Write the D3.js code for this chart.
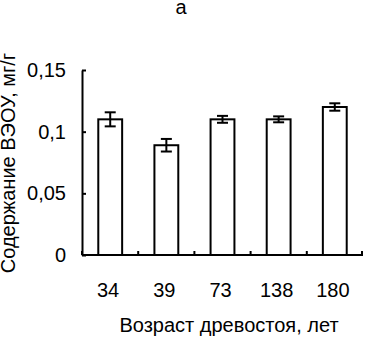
<!DOCTYPE html>
<html>
<head>
<meta charset="utf-8">
<script src="https://cdn.jsdelivr.net/npm/d3@7"></script>
<style>
  body { margin: 0; background: #fff; }
  text { font-family: "Liberation Sans", Arial, sans-serif; font-size: 20px; fill: #000; }
</style>
</head>
<body>
<svg id="chart"></svg>
<script>
// data
const ages = ["34", "39", "73", "138", "180"];
const values = [0.110, 0.089, 0.110, 0.110, 0.120];
const errors = [0.0057, 0.0051, 0.0028, 0.0024, 0.0030];
const yTicks = [0, 0.05, 0.1, 0.15];

const width = 365, height = 339;
const margin = {top: 70, right: 2, bottom: 84, left: 82};

const svg = d3.select("#chart")
	.attr("width", width)
	.attr("height", height);

const x = d3.scaleBand()
	.domain(ages)
	.range([margin.left, width - margin.right])
	.paddingInner(0.575)
	.paddingOuter(0.29);

const y = d3.scaleLinear()
	.domain([0, 0.15])
	.range([height - margin.bottom, margin.top]);

const band = d3.scaleBand().domain(ages).range([margin.left, width - margin.right]);

// bars
svg.append("g")
	.selectAll("rect")
	.data(values)
	.join("rect")
	.attr("x", (d, i) => x(ages[i]))
	.attr("y", d => y(d))
	.attr("width", x.bandwidth())
	.attr("height", d => y(0) - y(d))
	.attr("fill", "#fff")
	.attr("stroke", "#000")
	.attr("stroke-width", 2);

// error bars
const capW = 11;
const eb = svg.append("g").attr("stroke", "#000").attr("stroke-width", 2);
values.forEach((v, i) => {
	const cx = x(ages[i]) + x.bandwidth() / 2;
	eb.append("line").attr("x1", cx).attr("x2", cx).attr("y1", y(v - errors[i])).attr("y2", y(v + errors[i]));
	eb.append("line").attr("x1", cx - capW / 2).attr("x2", cx + capW / 2).attr("y1", y(v + errors[i])).attr("y2", y(v + errors[i]));
	eb.append("line").attr("x1", cx - capW / 2).attr("x2", cx + capW / 2).attr("y1", y(v - errors[i])).attr("y2", y(v - errors[i]));
});

// y axis, ticks pointing inward
const fmt = d => d3.format(",")(d).replace(".", ",");
const yAxis = svg.append("g")
	.attr("transform", `translate(${margin.left},0)`)
	.call(d3.axisLeft(y).tickValues(yTicks).tickSizeInner(-4).tickSizeOuter(0).tickPadding(16).tickFormat(fmt));
yAxis.select(".domain").attr("stroke-width", 2);
yAxis.selectAll(".tick line").attr("stroke-width", 2);
yAxis.selectAll("text").style("font-size", "20px").attr("font-family", null);

// x axis, category separators pointing up
const xAxis = svg.append("g")
	.attr("transform", `translate(0,${y(0)})`);
xAxis.append("line")
	.attr("x1", margin.left).attr("x2", width - margin.right)
	.attr("stroke", "#000").attr("stroke-width", 2);
xAxis.selectAll(".sep")
	.data(ages.concat(["end"]))
	.join("line")
	.attr("class", "sep")
	.attr("x1", (d, i) => i < ages.length ? band(d) : band.range()[1] - 1)
	.attr("x2", (d, i) => i < ages.length ? band(d) : band.range()[1] - 1)
	.attr("y1", 0).attr("y2", -4)
	.attr("stroke", "#000").attr("stroke-width", 2);
xAxis.selectAll(".lbl")
	.data(ages)
	.join("text")
	.attr("class", "lbl")
	.attr("x", d => band(d) + band.bandwidth() / 2 - 2)
	.attr("y", 42)
	.attr("text-anchor", "middle")
	.text(d => d);

// titles
svg.append("text")
	.attr("x", 181).attr("y", 14)
	.attr("text-anchor", "middle")
	.text("а");

svg.append("text")
	.attr("x", 229).attr("y", 332)
	.attr("text-anchor", "middle")
	.text("Возраст древостоя, лет");

svg.append("text")
	.attr("transform", "translate(15,163) rotate(-90)")
	.attr("text-anchor", "middle")
	.text("Содержание ВЭОУ, мг/г");
</script>
</body>
</html>
